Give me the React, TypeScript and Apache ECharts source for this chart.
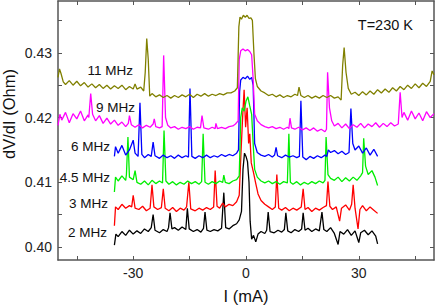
import React, { useEffect, useRef } from "react";
import * as echarts from "echarts";

// I (mA), dV/dI (Ohm) pairs
const trace2MHz: [number, number][] = [
  [-35, 0.4003], [-34.6, 0.402], [-34, 0.4016], [-33, 0.4024], [-32, 0.4018], [-31, 0.4026], [-30, 0.402], [-29, 0.4025],
  [-28, 0.4021], [-27, 0.4028], [-26, 0.4024], [-25.2, 0.403], [-24.7, 0.405], [-24.2, 0.4026], [-23, 0.4022], [-22, 0.4027],
  [-21, 0.4024], [-20.6, 0.403], [-20.2, 0.4053], [-19.7, 0.4028], [-19, 0.403], [-18, 0.4026], [-17, 0.4031], [-16, 0.4027],
  [-15.6, 0.406], [-15.1, 0.4028], [-14, 0.4024], [-13, 0.4027], [-12, 0.4023], [-11.3, 0.4029], [-10.9, 0.4054], [-10.4, 0.4026],
  [-9.5, 0.4024], [-8.5, 0.4027], [-7.5, 0.4025], [-6.5, 0.4029], [-5.9, 0.4084], [-5.4, 0.403], [-4.5, 0.4028], [-3.5, 0.4033],
  [-2.5, 0.4036], [-1.8, 0.4042], [-1.2, 0.4055], [-0.8, 0.412], [-0.4, 0.4145], [0, 0.414], [0.4, 0.4132], [0.8, 0.41],
  [1.1, 0.404], [1.5, 0.4012], [2, 0.4018], [2.6, 0.4008], [3.2, 0.402], [4, 0.4024], [5, 0.4021], [5.5, 0.4026],
  [5.9, 0.4054], [6.4, 0.4024], [7.5, 0.4022], [8.5, 0.4026], [9.5, 0.4023], [10.2, 0.4027], [10.6, 0.4053], [11.1, 0.4025],
  [12, 0.4022], [13, 0.4027], [14, 0.4024], [14.8, 0.4028], [15.2, 0.4053], [15.7, 0.4026], [16.5, 0.4029], [17.5, 0.4024],
  [18.5, 0.4028], [19.5, 0.4025], [20.2, 0.4054], [20.7, 0.4027], [21.5, 0.4024], [22.5, 0.403], [23.5, 0.4021], [24.5, 0.4004],
  [25, 0.4024], [26, 0.402], [27, 0.4027], [28, 0.4018], [29, 0.4025], [30, 0.4007], [30.5, 0.4022], [31.5, 0.4026],
  [32.5, 0.4019], [33.5, 0.4025], [34.5, 0.4017], [35, 0.4005],
];

const trace3MHz: [number, number][] = [
  [-35, 0.4033], [-34.7, 0.4062], [-34, 0.4058], [-33, 0.4066], [-32, 0.406], [-31, 0.4064], [-30.4, 0.4062], [-30, 0.408],
  [-29.5, 0.406], [-28.5, 0.4058], [-27.5, 0.4063], [-26.5, 0.4056], [-25.5, 0.406], [-25, 0.4096], [-24.5, 0.4062], [-23.5, 0.4058],
  [-22.5, 0.4061], [-22, 0.409], [-21.5, 0.406], [-20.5, 0.4056], [-19.5, 0.4061], [-18.5, 0.4055], [-17.5, 0.406], [-16.5, 0.4057],
  [-15.8, 0.4062], [-15.2, 0.41], [-14.7, 0.4059], [-13.5, 0.4056], [-12.5, 0.406], [-11.5, 0.4057], [-10.5, 0.4061], [-9.5, 0.4058],
  [-8.6, 0.4062], [-8.2, 0.4118], [-7.7, 0.4063], [-7, 0.406], [-6.2, 0.4068], [-5.5, 0.4062], [-4.5, 0.4066], [-3.5, 0.4064],
  [-2.5, 0.407], [-1.8, 0.408], [-1.3, 0.415], [-0.9, 0.42], [-0.5, 0.4243], [-0.1, 0.4185], [0.3, 0.4215], [0.7, 0.416],
  [1, 0.4175], [1.4, 0.413], [2, 0.4115], [2.6, 0.4098], [3.2, 0.4082], [4, 0.4072], [5, 0.4066], [6, 0.4062],
  [7, 0.4058], [7.8, 0.4062], [8.2, 0.4112], [8.7, 0.406], [9.5, 0.4057], [10.5, 0.4061], [11.5, 0.4056], [12.5, 0.406],
  [13.5, 0.4057], [14.7, 0.4062], [15.2, 0.409], [15.7, 0.4058], [16.5, 0.4061], [17.5, 0.4055], [18.5, 0.406], [19.5, 0.4057],
  [20.5, 0.4061], [21.4, 0.4064], [21.8, 0.4101], [22.3, 0.4063], [23, 0.4058], [24, 0.4062], [24.9, 0.404], [25.4, 0.406],
  [26.5, 0.4065], [27.5, 0.4057], [28.1, 0.4066], [28.5, 0.4096], [29, 0.406], [29.8, 0.4028], [30.3, 0.4058], [31, 0.4064],
  [32, 0.4056], [33, 0.4062], [34, 0.4057], [35, 0.4052],
];

const trace4p5MHz: [number, number][] = [
  [-35, 0.4085], [-34.7, 0.4108], [-34, 0.4102], [-33, 0.411], [-32, 0.4103], [-31.8, 0.4112], [-31.4, 0.417], [-31, 0.4108],
  [-30, 0.4104], [-29.5, 0.4118], [-29, 0.41], [-28, 0.4097], [-27, 0.4102], [-26, 0.4096], [-25, 0.4103], [-24, 0.4098],
  [-23, 0.4102], [-22.2, 0.4099], [-21.8, 0.418], [-21.3, 0.4102], [-20.5, 0.4097], [-19.5, 0.4101], [-18.5, 0.4096], [-17.5, 0.41],
  [-16.5, 0.4097], [-15.5, 0.4102], [-14.5, 0.4098], [-13.5, 0.4101], [-12.5, 0.4097], [-11.8, 0.4101], [-11.4, 0.4175], [-10.9, 0.41],
  [-10, 0.4097], [-9, 0.4101], [-8, 0.4098], [-7, 0.4102], [-6.2, 0.41], [-5.9, 0.4111], [-5.5, 0.41], [-4.5, 0.4098],
  [-3.5, 0.4102], [-2.5, 0.4104], [-1.8, 0.411], [-1.4, 0.42], [-1, 0.4215], [-0.5, 0.421], [0, 0.4225], [0.5, 0.4232],
  [1, 0.4218], [1.5, 0.4205], [1.9, 0.416], [2.3, 0.412], [3, 0.4108], [4, 0.4102], [5, 0.4099], [6, 0.4102],
  [7, 0.4098], [8, 0.4101], [9, 0.4097], [10, 0.4101], [11, 0.4099], [11.4, 0.4175], [11.8, 0.41], [12.5, 0.4097],
  [13.5, 0.4101], [14.5, 0.4096], [15.5, 0.41], [16.5, 0.4097], [17.5, 0.4101], [18.5, 0.4098], [19.5, 0.4102], [20.5, 0.4099],
  [21, 0.4103], [21.3, 0.417], [21.8, 0.4112], [22.5, 0.4106], [23.5, 0.4103], [24.5, 0.4108], [25.5, 0.4101], [26.5, 0.4107],
  [27.5, 0.4102], [28.5, 0.4108], [29.5, 0.4103], [30.5, 0.411], [31, 0.4115], [31.3, 0.4168], [31.8, 0.4125], [32.5, 0.4112],
  [33.5, 0.4118], [34.3, 0.4108], [35, 0.4095],
];

const trace6MHz: [number, number][] = [
  [-35, 0.414], [-34.7, 0.4155], [-34, 0.4145], [-33, 0.4157], [-32, 0.4142], [-31, 0.415], [-30, 0.4165], [-29.5, 0.4145],
  [-28.7, 0.414], [-28.2, 0.4223], [-27.7, 0.4143], [-27, 0.4138], [-26, 0.4143], [-25.2, 0.414], [-24.7, 0.4162], [-24.2, 0.4141],
  [-23, 0.4137], [-22, 0.4142], [-21, 0.4138], [-20, 0.4141], [-19, 0.4137], [-18, 0.4142], [-17, 0.4138], [-16, 0.4141],
  [-15.3, 0.4139], [-14.9, 0.4245], [-14.4, 0.414], [-13.5, 0.4137], [-12.5, 0.4141], [-11.5, 0.4138], [-10.5, 0.4142], [-9.5, 0.4138],
  [-8.5, 0.4141], [-7.5, 0.4139], [-6.5, 0.4143], [-5.5, 0.414], [-4.5, 0.4143], [-3.5, 0.4141], [-2.5, 0.4145], [-2, 0.415],
  [-1.7, 0.424], [-1.4, 0.4258], [-0.8, 0.4262], [-0.2, 0.426], [0.4, 0.4264], [1, 0.4259], [1.5, 0.4262], [1.9, 0.425],
  [2.3, 0.416], [3, 0.4146], [4, 0.4142], [5, 0.414], [6, 0.4143], [7, 0.4139], [7.6, 0.4142], [8, 0.4154],
  [8.4, 0.4141], [9.5, 0.4138], [10.5, 0.4142], [11.5, 0.4139], [12.5, 0.4141], [13.5, 0.4138], [14.2, 0.414], [14.6, 0.4226],
  [15.1, 0.4139], [16, 0.4135], [17, 0.414], [18, 0.4137], [19, 0.4141], [20, 0.4138], [21, 0.4142], [21.5, 0.414],
  [21.9, 0.415], [22.5, 0.4146], [23.5, 0.4149], [24.5, 0.4144], [25.5, 0.4148], [26.5, 0.4143], [27.4, 0.4146], [27.9, 0.4214],
  [28.4, 0.416], [29, 0.415], [30, 0.4156], [31, 0.4145], [32, 0.4153], [33, 0.4142], [34, 0.4151], [35, 0.414],
];

const trace9MHz: [number, number][] = [
  [-50, 0.4188], [-49.5, 0.4205], [-49, 0.4196], [-48, 0.4208], [-47, 0.4192], [-46, 0.4206], [-45, 0.4198], [-44, 0.421],
  [-43, 0.4195], [-42, 0.4204], [-41.8, 0.42], [-41.3, 0.4237], [-40.8, 0.4205], [-40, 0.4195], [-39, 0.4203], [-38, 0.4191],
  [-37, 0.4199], [-36, 0.419], [-35, 0.4196], [-34, 0.4188], [-33, 0.4193], [-32, 0.4186], [-31.3, 0.4191], [-31, 0.4203],
  [-30.5, 0.4189], [-29.5, 0.4185], [-28.5, 0.4189], [-27.5, 0.4184], [-26.5, 0.4188], [-25.5, 0.4185], [-24.7, 0.419], [-24.4, 0.4198],
  [-24, 0.4186], [-23, 0.4184], [-22.3, 0.4186], [-21.9, 0.4296], [-21.4, 0.42], [-20.8, 0.4188], [-20, 0.4184], [-19, 0.4186],
  [-18, 0.4182], [-17, 0.4185], [-16, 0.4183], [-15, 0.4186], [-14, 0.4182], [-13, 0.4185], [-12.1, 0.4184], [-11.7, 0.4203],
  [-11.2, 0.4184], [-10, 0.4182], [-9, 0.4185], [-8.2, 0.4183], [-8, 0.4191], [-7.6, 0.4183], [-6.5, 0.4185], [-5.5, 0.4183],
  [-4.5, 0.4186], [-3.5, 0.4187], [-2.8, 0.419], [-2.1, 0.4195], [-1.8, 0.429], [-1.4, 0.4303], [-0.8, 0.4306], [-0.2, 0.4303],
  [0.4, 0.4305], [1, 0.4302], [1.5, 0.4297], [1.9, 0.426], [2.3, 0.4205], [3, 0.4195], [4, 0.4189], [5, 0.4186],
  [6, 0.4184], [7, 0.4186], [8, 0.4183], [9, 0.4185], [10, 0.4182], [11, 0.4185], [11.4, 0.4183], [11.7, 0.4199],
  [12.1, 0.4184], [13, 0.4182], [14, 0.4185], [15, 0.4181], [16, 0.4184], [17, 0.418], [18, 0.4184], [19, 0.4179],
  [20, 0.4182], [21, 0.4178], [21.4, 0.4182], [21.7, 0.427], [22.2, 0.4215], [22.8, 0.4195], [23.5, 0.4187], [24.5, 0.4191],
  [25.5, 0.4184], [26.5, 0.419], [27.5, 0.4183], [28.5, 0.4189], [29.5, 0.4185], [30.5, 0.4191], [31.5, 0.4184], [32.5, 0.419],
  [33.5, 0.4186], [34.5, 0.4192], [35.5, 0.4185], [36.5, 0.4191], [37.5, 0.4186], [38.5, 0.4192], [39.5, 0.4187], [40.5, 0.419],
  [41, 0.4239], [41.5, 0.42], [42, 0.4208], [43, 0.4196], [44, 0.421], [45, 0.4198], [46, 0.4207], [47, 0.4195],
  [48, 0.4209], [49, 0.42], [50, 0.4206],
];

const trace11MHz: [number, number][] = [
  [-50, 0.4262], [-49.6, 0.4275], [-49.2, 0.4268], [-48.6, 0.4255], [-48, 0.4251], [-47, 0.4257], [-46, 0.425], [-45, 0.4256],
  [-44, 0.4249], [-43, 0.4254], [-42, 0.4247], [-41, 0.4252], [-40, 0.4246], [-39, 0.4251], [-38, 0.4245], [-37, 0.425],
  [-36, 0.4244], [-35, 0.4249], [-34, 0.4245], [-33, 0.425], [-32, 0.4243], [-31, 0.4248], [-30, 0.4244], [-29.5, 0.4252],
  [-29, 0.4244], [-28, 0.4247], [-27.2, 0.4241], [-26.8, 0.427], [-26.4, 0.4322], [-26, 0.429], [-25.6, 0.4233], [-25, 0.4237],
  [-24, 0.4232], [-23, 0.4235], [-22, 0.4231], [-21, 0.4234], [-20, 0.423], [-19, 0.4234], [-18, 0.4231], [-17, 0.4235],
  [-16, 0.4232], [-15, 0.4236], [-14, 0.4231], [-13, 0.4236], [-12, 0.4233], [-11, 0.4237], [-10, 0.4233], [-9, 0.4236],
  [-8, 0.4234], [-7, 0.4237], [-6, 0.4235], [-5, 0.4238], [-4, 0.4238], [-3, 0.4241], [-2.3, 0.4246], [-1.9, 0.434],
  [-1.6, 0.4355], [-1.2, 0.4352], [-0.7, 0.4358], [-0.2, 0.4355], [0.3, 0.4358], [0.8, 0.4353], [1.3, 0.4354], [1.7, 0.435],
  [2.1, 0.43], [2.5, 0.426], [3, 0.4248], [4, 0.4241], [5, 0.4238], [6, 0.4234], [7, 0.4236], [8, 0.4232],
  [9, 0.4235], [10, 0.4231], [11, 0.4234], [12, 0.4232], [13, 0.4236], [13.7, 0.4234], [14.1, 0.4247], [14.6, 0.4234],
  [15.5, 0.4231], [16.5, 0.4234], [17.5, 0.423], [18.5, 0.4233], [19.5, 0.423], [20.5, 0.4234], [21.5, 0.4231], [22.5, 0.4234],
  [23.5, 0.423], [24.5, 0.4232], [25.3, 0.4227], [25.7, 0.428], [26.1, 0.4308], [26.6, 0.427], [27.2, 0.4245], [28, 0.4236],
  [29, 0.4239], [30, 0.4234], [31, 0.424], [32, 0.4235], [33, 0.4241], [34, 0.4236], [35, 0.4243], [36, 0.4238],
  [37, 0.4244], [38, 0.4239], [39, 0.4246], [40, 0.4241], [41, 0.4248], [42, 0.4243], [43, 0.425], [44, 0.4245],
  [45, 0.4252], [46, 0.4246], [47, 0.4253], [48, 0.4248], [49, 0.4256], [49.5, 0.4272], [50, 0.4266],
];

const seriesNames = ["2 MHz", "3 MHz", "4.5 MHz", "6 MHz", "9 MHz", "11 MHz"];
const seriesColors = ["#000000", "#ff0000", "#00ee00", "#0000ff", "#ff00ff", "#808000"];
const seriesData = [trace2MHz, trace3MHz, trace4p5MHz, trace6MHz, trace9MHz, trace11MHz];

const xLabelValues = [-30, 0, 30];
const xTickValues = [-45, -30, -15, 0, 15, 30, 45];
const yLabelValues = [0.4, 0.41, 0.42, 0.43];
const yTickValues = [0.4, 0.405, 0.41, 0.415, 0.42, 0.425, 0.43, 0.435];

const FONT = "Liberation Sans, Arial, Helvetica, sans-serif";

export default function App() {
  const ref = useRef<HTMLDivElement>(null);
  useEffect(() => {
    if (!ref.current) return;
    const chart = echarts.init(ref.current, null, { renderer: "svg" });
    const axisLine = { show: true, onZero: false, lineStyle: { color: "#555", width: 1.5 } };
    const mkX = (pos: "bottom" | "top", labels: boolean) => ({
      type: "value",
      position: pos,
      min: -50,
      max: 50,
      axisLine,
      splitLine: { show: false },
      axisTick: { show: true, inside: true, length: 4, customValues: xTickValues, lineStyle: { color: "#555", width: 1 } },
      axisLabel: {
        show: labels,
        customValues: xLabelValues,
        margin: 6,
        fontSize: 14,
        fontFamily: FONT,
        color: "#222",
        formatter: (v: number) => String(v),
      },
    });
    const mkY = (pos: "left" | "right", labels: boolean) => ({
      type: "value",
      position: pos,
      min: 0.398,
      max: 0.438,
      axisLine,
      splitLine: { show: false },
      axisTick: { show: true, inside: true, length: 4, customValues: yTickValues, lineStyle: { color: "#555", width: 1 } },
      axisLabel: {
        show: labels,
        customValues: yLabelValues,
        margin: 6,
        fontSize: 14,
        fontFamily: FONT,
        color: "#222",
        formatter: (v: number) => v.toFixed(2),
      },
    });
    const labelStyle = (text: string, x: number, y: number, align: string, size = 13.5) => ({
      type: "text",
      x,
      y,
      style: { text, x: 0, y: 0, align, verticalAlign: "middle", font: `${size}px ${FONT}`, fill: "#111" },
    });
    chart.setOption({
      animation: false,
      backgroundColor: "#ffffff",
      grid: { left: 58, right: 2, top: 1, bottom: 47 },
      xAxis: [mkX("bottom", true), mkX("top", false)],
      yAxis: [mkY("left", true), mkY("right", false)],
      series: seriesData.map((d, i) => ({
        type: "line",
        name: seriesNames[i],
        data: d,
        xAxisIndex: 0,
        yAxisIndex: 0,
        showSymbol: false,
        symbol: "none",
        lineStyle: { color: seriesColors[i], width: 1.3 },
        z: 2 + i,
      })),
      graphic: [
        labelStyle("11 MHz", 133, 70, "right"),
        labelStyle("9 MHz", 135, 107, "right"),
        labelStyle("6 MHz", 110, 146, "right"),
        labelStyle("4.5 MHz", 110, 177, "right"),
        labelStyle("3 MHz", 108, 203, "right"),
        labelStyle("2 MHz", 107, 232, "right"),
        labelStyle("T=230 K", 413, 25, "right", 14.5),
        labelStyle("I (mA)", 246, 296, "center", 16.5),
        {
          type: "text",
          x: 9,
          y: 114,
          rotation: Math.PI / 2,
          style: { text: "dV/dI (Ohm)", align: "center", verticalAlign: "middle", font: `16.5px ${FONT}`, fill: "#111" },
        },
      ],
    });
    return () => chart.dispose();
  }, []);
  return <div ref={ref} style={{ position: "fixed", left: 0, top: 0, width: 436, height: 307 }} />;
}
